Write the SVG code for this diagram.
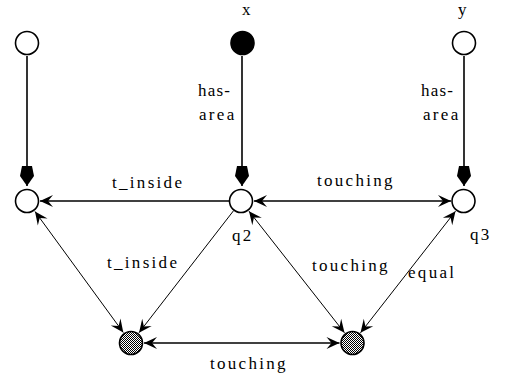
<svg xmlns="http://www.w3.org/2000/svg" width="505" height="381" viewBox="0 0 505 381">
<style>
.n{fill:#fff;stroke:#000;stroke-width:1.6}
.nb{fill:#000;stroke:#000;stroke-width:1.6}
.ng{fill:url(#chk);stroke:#000;stroke-width:1.6}
.e{fill:none;stroke:#000;stroke-width:1.6}
.d{fill:none;stroke:#000;stroke-width:1}
.t{font-family:"Liberation Serif","Times New Roman",serif;font-size:17px;letter-spacing:2.3px;fill:#000}
.s{letter-spacing:1.2px}
</style>
<defs>
<pattern id="chk" width="2" height="2" patternUnits="userSpaceOnUse">
<rect width="2" height="2" fill="#fff"/>
<rect width="1" height="1" fill="#000"/>
<rect x="1" y="1" width="1" height="1" fill="#000"/>
</pattern>
<marker id="solid" markerUnits="userSpaceOnUse" markerWidth="24" markerHeight="18" viewBox="-22 -9 24 18" refX="0" refY="0" orient="auto">
<path d="M0,0 L-10,-7 L-20,-5 L-20,5 L-10,7 Z" fill="#000"/>
</marker>
<marker id="open" markerUnits="userSpaceOnUse" markerWidth="18" markerHeight="16" viewBox="-15 -8 18 16" refX="0" refY="0" orient="auto-start-reverse">
<path d="M0,0 L-13,-6 L-8,0 L-13,6 Z" fill="#000"/>
</marker>
</defs>
<g id="connectors">
<line class="e" x1="27" y1="56" x2="27" y2="186" marker-end="url(#solid)"/>
<line class="e" x1="242" y1="56" x2="242" y2="186" marker-end="url(#solid)"/>
<line class="e" x1="464" y1="56" x2="464" y2="186" marker-end="url(#solid)"/>
<line class="e" x1="229" y1="201" x2="40" y2="201" marker-end="url(#open)"/>
<line class="e" x1="254" y1="201" x2="451" y2="201" marker-start="url(#open)" marker-end="url(#open)"/>
<line class="d" x1="35" y1="211.5" x2="123.3" y2="332.5" marker-start="url(#open)" marker-end="url(#open)"/>
<line class="d" x1="233.7" y1="210.5" x2="139" y2="332.7" marker-end="url(#open)"/>
<line class="d" x1="249" y1="211.2" x2="344.5" y2="332.8" marker-start="url(#open)" marker-end="url(#open)"/>
<line class="d" x1="455.5" y1="211.2" x2="360.5" y2="332.8" marker-start="url(#open)" marker-end="url(#open)"/>
<line class="e" x1="144" y1="343" x2="339.5" y2="343" marker-start="url(#open)" marker-end="url(#open)"/>
</g>
<g id="labels">
<text class="t s" x="198" y="96">has-</text>
<text class="t" x="199" y="120">area</text>
<text class="t s" x="421" y="96">has-</text>
<text class="t" x="423" y="120">area</text>
<text class="t" x="112" y="188">t_inside</text>
<text class="t" x="317" y="186">touching</text>
<text class="t" x="107" y="268">t_inside</text>
<text class="t" x="312" y="271">touching</text>
<text class="t" x="408" y="278">equal</text>
<text class="t" x="210" y="369">touching</text>
</g>
<g id="n_top_left"><circle class="n" cx="27" cy="43" r="11.5"/></g>
<g id="n_x"><circle class="nb" cx="242.5" cy="43" r="11.5"/><text class="t" x="242" y="15">x</text></g>
<g id="n_y"><circle class="n" cx="464" cy="43" r="11.5"/><text class="t" x="458" y="15">y</text></g>
<g id="n_mid_left"><circle class="n" cx="27" cy="201" r="11.5"/></g>
<g id="n_q2"><circle class="n" cx="241" cy="201" r="11.5"/><text class="t" x="232" y="241">q2</text></g>
<g id="n_q3"><circle class="n" cx="463.5" cy="201" r="11.5"/><text class="t" x="470" y="240">q3</text></g>
<g id="n_bottom_left"><circle class="ng" cx="131" cy="343" r="11.5"/></g>
<g id="n_bottom_right"><circle class="ng" cx="352.5" cy="343" r="11.5"/></g>
</svg>
